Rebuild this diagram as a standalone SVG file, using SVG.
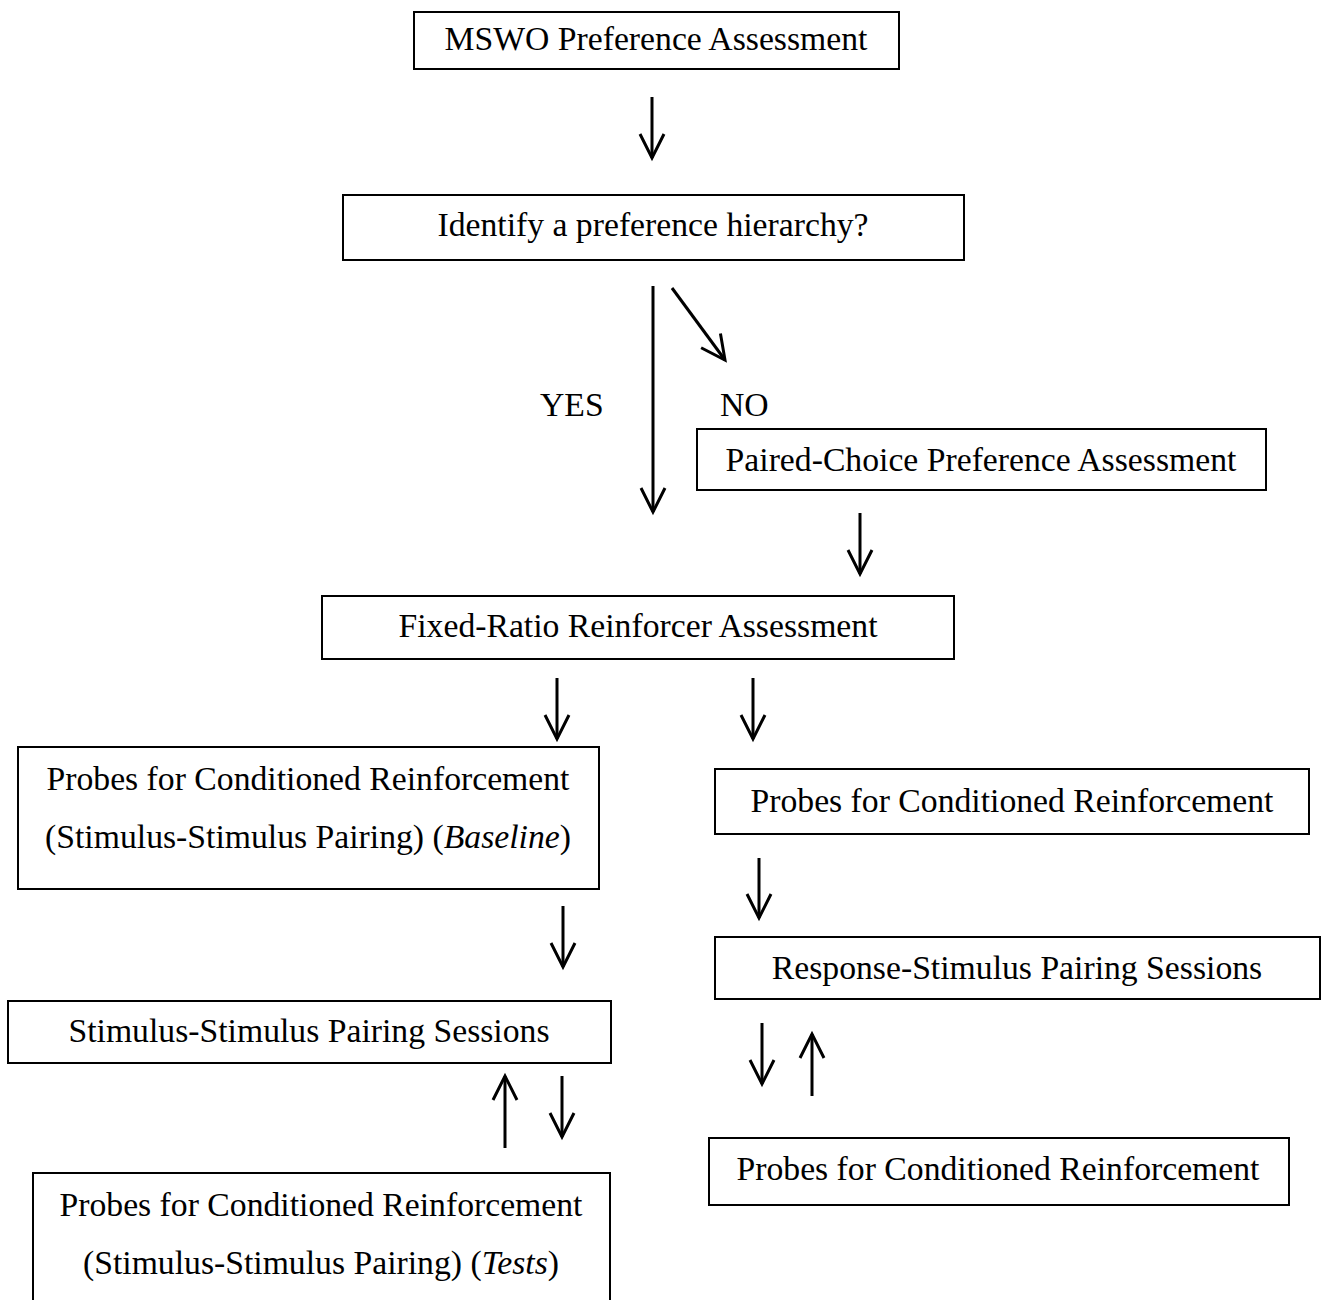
<svg xmlns="http://www.w3.org/2000/svg" width="1325" height="1300" viewBox="0 0 1325 1300">
<style>
.box{fill:#fff;stroke:#000;stroke-width:2}
.t{font-family:"Liberation Serif","Times New Roman",serif;font-size:33.7px;fill:#000;text-anchor:middle}
.l{font-family:"Liberation Serif","Times New Roman",serif;font-size:33.7px;fill:#000}
.a{stroke:#000;stroke-width:3;fill:none;marker-end:url(#ah)}
</style>
<defs>
<marker id="ah" markerUnits="userSpaceOnUse" viewBox="-30 -16 34 32" refX="0" refY="0" markerWidth="34" markerHeight="32" orient="auto" overflow="visible">
<path d="M -24 -12 L 0 0 L -24 12" fill="none" stroke="#000" stroke-width="3" stroke-linejoin="miter"/>
</marker>
</defs>
<rect width="1325" height="1300" fill="#fff"/>
<g id="n1"><rect class="box" x="414" y="12" width="485" height="57"/><text class="t" x="656" y="50">MSWO Preference Assessment</text></g>
<g id="n2"><rect class="box" x="343" y="195" width="621" height="65"/><text class="t" x="653" y="236">Identify a preference hierarchy?</text></g>
<g id="n3"><rect class="box" x="697" y="429" width="569" height="61"/><text class="t" x="981" y="471">Paired-Choice Preference Assessment</text></g>
<g id="n4"><rect class="box" x="322" y="596" width="632" height="63"/><text class="t" x="638" y="637">Fixed-Ratio Reinforcer Assessment</text></g>
<g id="n5"><rect class="box" x="18" y="747" width="581" height="142"/><text class="t" x="308" y="790">Probes for Conditioned Reinforcement</text><text class="t" x="308" y="848">(Stimulus-Stimulus Pairing) (<tspan font-style="italic">Baseline</tspan>)</text></g>
<g id="n6"><rect class="box" x="715" y="769" width="594" height="65"/><text class="t" x="1012" y="812">Probes for Conditioned Reinforcement</text></g>
<g id="n7"><rect class="box" x="715" y="937" width="605" height="62"/><text class="t" x="1017" y="979">Response-Stimulus Pairing Sessions</text></g>
<g id="n8"><rect class="box" x="8" y="1001" width="603" height="62"/><text class="t" x="309" y="1042">Stimulus-Stimulus Pairing Sessions</text></g>
<g id="n9"><rect class="box" x="33" y="1173" width="577" height="140"/><text class="t" x="321" y="1216">Probes for Conditioned Reinforcement</text><text class="t" x="321" y="1274">(Stimulus-Stimulus Pairing) (<tspan font-style="italic">Tests</tspan>)</text></g>
<g id="n10"><rect class="box" x="709" y="1138" width="580" height="67"/><text class="t" x="998" y="1180">Probes for Conditioned Reinforcement</text></g>
<g id="connectors">
<line class="a" x1="652" y1="97" x2="652" y2="158"/>
<line class="a" x1="653" y1="286" x2="653" y2="512"/>
<line class="a" x1="672" y1="288" x2="725" y2="360"/>
<line class="a" x1="860" y1="513" x2="860" y2="574"/>
<line class="a" x1="557" y1="678" x2="557" y2="739"/>
<line class="a" x1="753" y1="678" x2="753" y2="739"/>
<line class="a" x1="563" y1="906" x2="563" y2="967"/>
<line class="a" x1="759" y1="858" x2="759" y2="918"/>
<line class="a" x1="762" y1="1023" x2="762" y2="1084"/>
<line class="a" x1="812" y1="1096" x2="812" y2="1034"/>
<line class="a" x1="505" y1="1148" x2="505" y2="1076"/>
<line class="a" x1="562" y1="1076" x2="562" y2="1137"/>
<text class="l" x="540" y="416">YES</text>
<text class="l" x="720" y="416">NO</text>
</g>
</svg>
